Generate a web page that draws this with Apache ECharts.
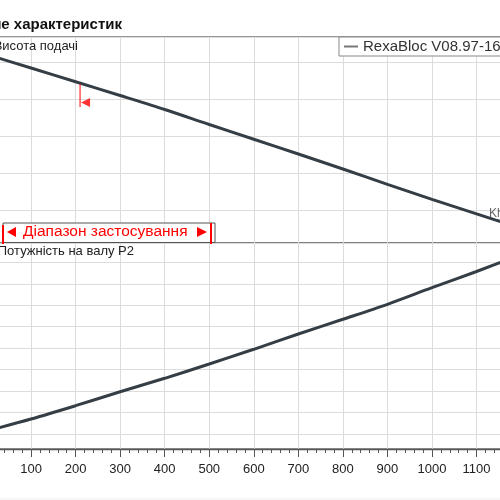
<!DOCTYPE html>
<html>
<head>
<meta charset="utf-8">
<script src="https://cdn.jsdelivr.net/npm/echarts@6/dist/echarts.min.js"></script>
<style>
  html, body { margin: 0; padding: 0; background: #fff; }
  #main { width: 500px; height: 500px; }
</style>
</head>
<body>
<div id="main"></div>
<script>
// подача Q, точки кривих
const flow = [0, 100, 200, 300, 400, 500, 600, 700, 800, 900, 1000, 1100, 1200];
// висота подачі (верхня панель)
const head = [5.208, 4.838, 4.467, 4.094, 3.716, 3.311, 2.913, 2.513, 2.108, 1.694, 1.289, 0.897, 0.505];
// потужність на валу P2 (нижня панель)
const power = [1.140, 1.699, 2.319, 2.971, 3.595, 4.262, 4.947, 5.660, 6.345, 7.044, 7.817, 8.572, 9.364];
// позначка початку робочої точки
const markQ = [210, 210];
const markH = [4.405, 3.784];
const markArrow = [[210, 3.905]];

const qMin = 0, qMax = 1200, qStep = 100;
const headRange = [0.108, 5.676];
const powerRange = [0.301, 9.90];

const seriesName = 'RexaBloc V08.97-16';

const mainEl = document.querySelector('#main');
let myChart = echarts.init(mainEl);

const gridColor = '#dcdcdc';
const curveColor = '#353d45';
const font = '"Liberation Sans", Arial, sans-serif';

let option = {
    animation: false,
    legend: {
        data: [{ name: seriesName, icon: 'rect', itemStyle: { color: '#777' } }],
        left: 339,
        top: 37,
        padding: [2, 8, 2, 5],
        itemWidth: 14,
        itemHeight: 2,
        backgroundColor: '#fff',
        borderColor: '#888',
        borderWidth: 1,
        borderRadius: 0,
        selectedMode: false,
        textStyle: { fontSize: 15, color: '#333', fontFamily: font }
    },
    grid: [
        { left: -13.5, top: 37, width: 534.6, height: 206, show: true, borderColor: '#777', borderWidth: 1.3,
          outerBoundsMode: 'none', containLabel: false },
        { left: -13.5, top: 243, width: 534.6, height: 206, show: true, borderColor: '#777', borderWidth: 1.3,
          outerBoundsMode: 'none', containLabel: false }
    ],
    xAxis: [
        {
            gridIndex: 0, type: 'value', min: qMin, max: qMax, interval: qStep,
            axisLine: { show: false }, axisTick: { show: false }, axisLabel: { show: false },
            splitLine: { lineStyle: { color: gridColor, width: 1 } }
        },
        {
            gridIndex: 1, type: 'value', min: qMin, max: qMax, interval: qStep,
            axisLine: { show: true, lineStyle: { color: '#555', width: 1.3 } },
            axisTick: { show: true, length: 8, lineStyle: { color: '#555' } },
            minorTick: { show: true, splitNumber: 5, length: 4, lineStyle: { color: '#555' } },
            axisLabel: { fontSize: 13, color: '#222', margin: 14, fontFamily: font,
                         formatter: (v) => String(v) },
            splitLine: { lineStyle: { color: gridColor, width: 1 } }
        }
    ],
    yAxis: [
        {
            gridIndex: 0, type: 'value', min: headRange[0], max: headRange[1], splitNumber: 5,
            axisLine: { show: false }, axisTick: { show: false }, axisLabel: { show: false },
            splitLine: { lineStyle: { color: gridColor, width: 1 } }
        },
        {
            gridIndex: 1, type: 'value', min: powerRange[0], max: powerRange[1], splitNumber: 10,
            axisLine: { show: false }, axisTick: { show: false }, axisLabel: { show: false },
            splitLine: { lineStyle: { color: gridColor, width: 1 } }
        }
    ],
    series: [
        {
            name: seriesName, type: 'line', xAxisIndex: 0, yAxisIndex: 0,
            data: flow.map((q, i) => [q, head[i]]),
            smooth: 0.3, showSymbol: false, symbol: 'none',
            color: curveColor,
            lineStyle: { color: curveColor, width: 3 }
        },
        {
            name: seriesName, type: 'line', xAxisIndex: 1, yAxisIndex: 1,
            data: flow.map((q, i) => [q, power[i]]),
            smooth: 0.3, showSymbol: false, symbol: 'none',
            color: curveColor,
            lineStyle: { color: curveColor, width: 3 }
        },
        {
            name: 'mark', type: 'line', xAxisIndex: 0, yAxisIndex: 0,
            data: markQ.map((q, i) => [q, markH[i]]),
            symbol: 'none', color: '#ff0000',
            lineStyle: { color: '#ff0000', width: 1 }, z: 5
        },
        {
            name: 'arrow', type: 'scatter', xAxisIndex: 0, yAxisIndex: 0,
            data: markArrow,
            symbol: 'path://M10,0 L0,5 L10,10 Z', symbolSize: [9, 9], symbolOffset: [5.5, 0],
            color: '#ff0000', itemStyle: { color: '#ff0000' }, z: 5
        }
    ],
    graphic: [
        {
            type: 'text', z: 10,
            style: { x: 122, y: 25, text: 'Поле характеристик', textAlign: 'right', textVerticalAlign: 'middle',
                     font: 'bold 15px "Liberation Sans", Arial, sans-serif', fill: '#111' }
        },
        {
            type: 'text', z: 10,
            style: { x: 78, y: 46, text: 'Висота подачі', textAlign: 'right', textVerticalAlign: 'middle',
                     font: '13px ' + font, fill: '#222' }
        },
        {
            type: 'text', z: 10,
            style: { x: 134, y: 251, text: 'Потужність на валу P2', textAlign: 'right', textVerticalAlign: 'middle',
                     font: '13px ' + font, fill: '#222' }
        },
        {
            type: 'text', z: 10,
            style: { x: 489, y: 214, text: 'Kh', textAlign: 'left', textVerticalAlign: 'middle',
                     font: '12px ' + font, fill: '#666' }
        },
        // діапазон застосування
        {
            type: 'rect', z: 10,
            shape: { x: 3, y: 223, width: 212, height: 19.5 },
            style: { fill: '#fff', stroke: '#555', lineWidth: 1 }
        },
        {
            type: 'line', z: 11,
            shape: { x1: 3, y1: 225, x2: 3, y2: 244 },
            style: { stroke: '#ff0000', lineWidth: 2 }
        },
        {
            type: 'line', z: 11,
            shape: { x1: 211, y1: 223, x2: 211, y2: 244 },
            style: { stroke: '#ff0000', lineWidth: 2 }
        },
        {
            type: 'polygon', z: 11,
            shape: { points: [[7, 232], [16, 227], [16, 237]] },
            style: { fill: '#ff0000' }
        },
        {
            type: 'polygon', z: 11,
            shape: { points: [[207, 232], [197, 227], [197, 237]] },
            style: { fill: '#ff0000' }
        },
        {
            type: 'text', z: 11,
            style: { x: 23, y: 232, text: 'Діапазон застосування', textAlign: 'left', textVerticalAlign: 'middle',
                     font: '15.5px ' + font, fill: '#ff0000' }
        },
        {
            type: 'line', z: 1,
            shape: { x1: 0, y1: 499, x2: 500, y2: 499 },
            style: { stroke: '#eeeeee', lineWidth: 1 }
        }
    ]
};

myChart.setOption(option);
</script>
</body>
</html>
